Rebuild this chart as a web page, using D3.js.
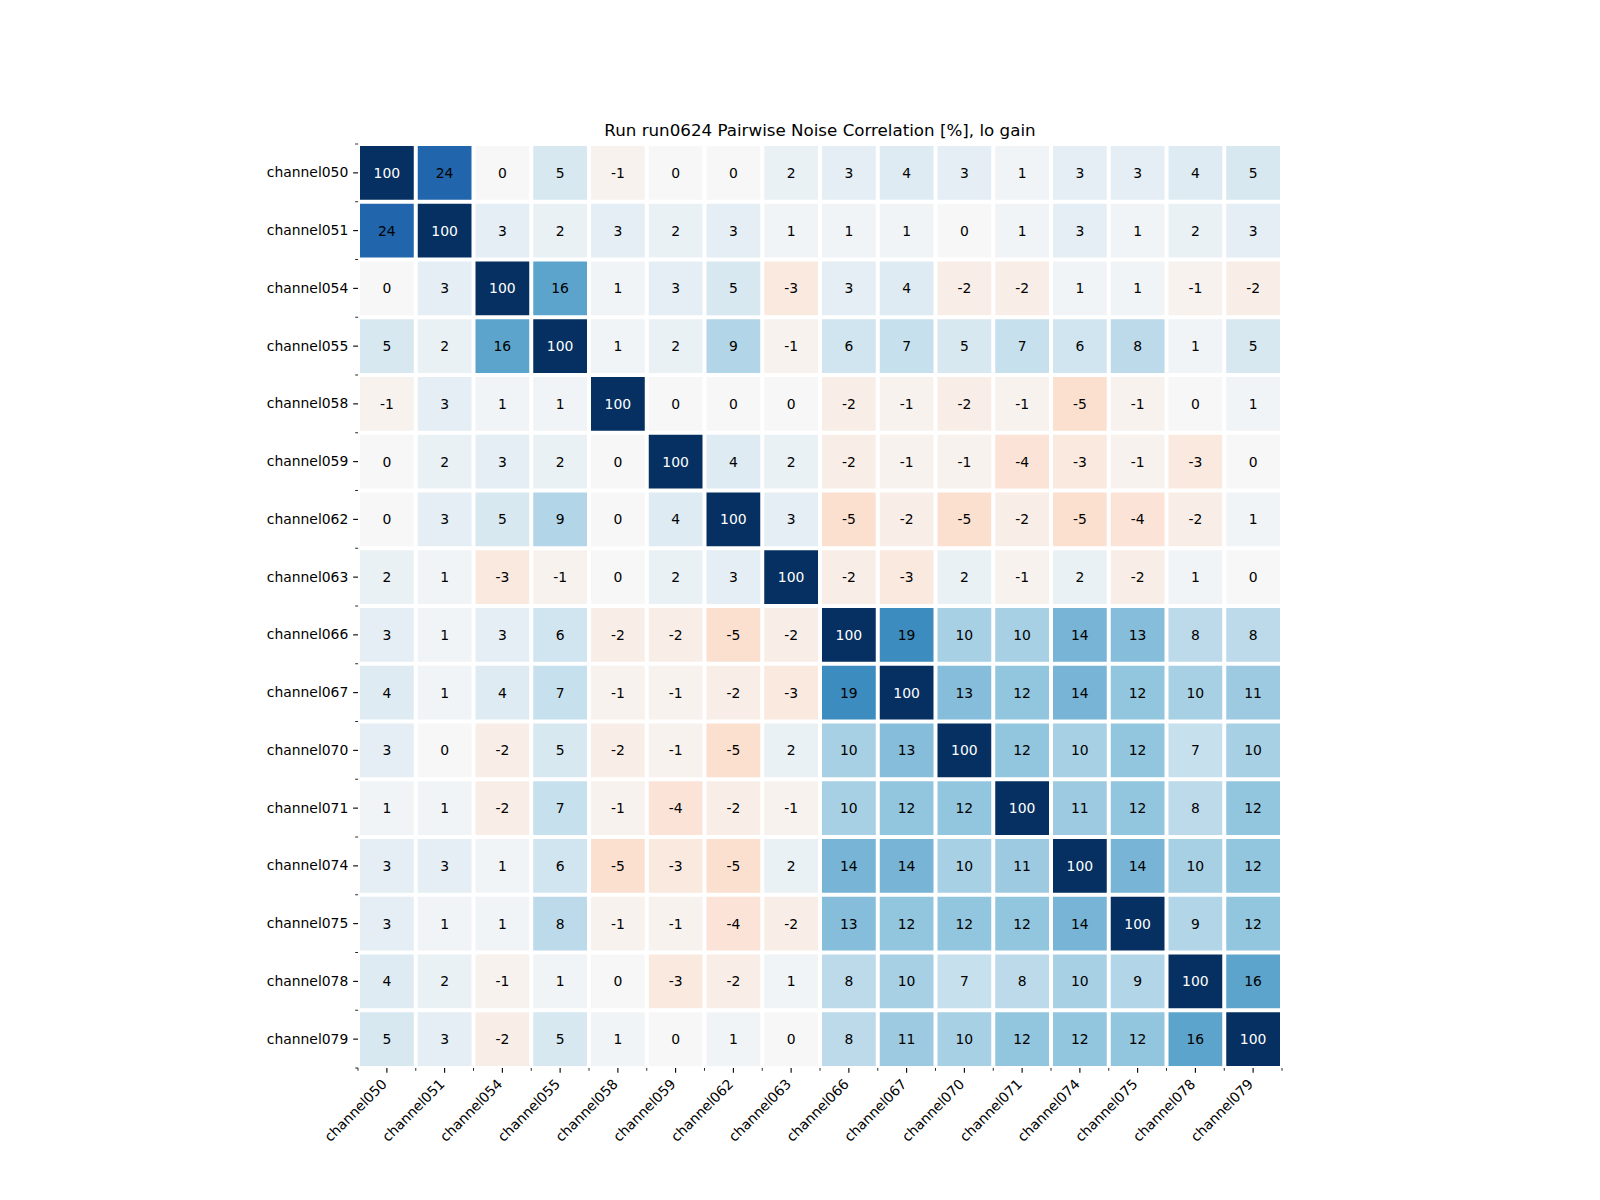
<html>
<head>
  <meta charset="utf-8">
  <style>
  body {
    margin: 0;
    background: #fff;
  }
  text {
    font-family: "DejaVu Sans", sans-serif;
  }
  </style>
</head>
<body>
  <div id="elm"></div>
  <script src="https://d3js.org/d3.v7.min.js"></script>
  <script>
  'use strict';

  var channels = ['channel050', 'channel051', 'channel054', 'channel055', 'channel058', 'channel059',
                  'channel062', 'channel063', 'channel066', 'channel067', 'channel070', 'channel071',
                  'channel074', 'channel075', 'channel078', 'channel079'];

  // correlation in percent, row by row (same order as channels)
  var corr = [
    [100, 24, 0, 5, -1, 0, 0, 2, 3, 4, 3, 1, 3, 3, 4, 5],
    [24, 100, 3, 2, 3, 2, 3, 1, 1, 1, 0, 1, 3, 1, 2, 3],
    [0, 3, 100, 16, 1, 3, 5, -3, 3, 4, -2, -2, 1, 1, -1, -2],
    [5, 2, 16, 100, 1, 2, 9, -1, 6, 7, 5, 7, 6, 8, 1, 5],
    [-1, 3, 1, 1, 100, 0, 0, 0, -2, -1, -2, -1, -5, -1, 0, 1],
    [0, 2, 3, 2, 0, 100, 4, 2, -2, -1, -1, -4, -3, -1, -3, 0],
    [0, 3, 5, 9, 0, 4, 100, 3, -5, -2, -5, -2, -5, -4, -2, 1],
    [2, 1, -3, -1, 0, 2, 3, 100, -2, -3, 2, -1, 2, -2, 1, 0],
    [3, 1, 3, 6, -2, -2, -5, -2, 100, 19, 10, 10, 14, 13, 8, 8],
    [4, 1, 4, 7, -1, -1, -2, -3, 19, 100, 13, 12, 14, 12, 10, 11],
    [3, 0, -2, 5, -2, -1, -5, 2, 10, 13, 100, 12, 10, 12, 7, 10],
    [1, 1, -2, 7, -1, -4, -2, -1, 10, 12, 12, 100, 11, 12, 8, 12],
    [3, 3, 1, 6, -5, -3, -5, 2, 14, 14, 10, 11, 100, 14, 10, 12],
    [3, 1, 1, 8, -1, -1, -4, -2, 13, 12, 12, 12, 14, 100, 9, 12],
    [4, 2, -1, 1, 0, -3, -2, 1, 8, 10, 7, 8, 10, 9, 100, 16],
    [5, 3, -2, 5, 1, 0, 1, 0, 8, 11, 10, 12, 12, 12, 16, 100]
  ];

  var rdbu = ['#67001f', '#b2182b', '#d6604d', '#f4a582', '#fddbc7', '#f7f7f7',
              '#d1e5f0', '#92c5de', '#4393c3', '#2166ac', '#053061'];

  var title = 'Run run0624 Pairwise Noise Correlation [%], lo gain';

  var width = 1600,
      height = 1200;

  var plotLeft = 358, plotTop = 144, size = 924;

  var svg = d3.select('#elm').append('svg')
    .attr('width', width).attr('height', height);

  var x = d3.scaleBand().domain(channels).range([plotLeft, plotLeft + size]);
  var y = d3.scaleBand().domain(channels).range([plotTop, plotTop + size]);

  var vmax = 30;
  var color = d3.scaleLinear()
    .domain(d3.range(rdbu.length).map(function(i) { return -vmax + 2 * vmax * i / (rdbu.length - 1); }))
    .range(rdbu)
    .clamp(true);

  var cells = [];
  corr.forEach(function(row, i) {
    row.forEach(function(v, j) {
      cells.push({ row: channels[i], col: channels[j], value: v });
    });
  });

  var gap = 2;
  var g = svg.append('g').attr('class', 'cells');

  g.selectAll('rect').data(cells).enter().append('rect')
    .attr('x', function(d) { return x(d.col) + gap; })
    .attr('y', function(d) { return y(d.row) + gap; })
    .attr('width', x.bandwidth() - 2 * gap)
    .attr('height', y.bandwidth() - 2 * gap)
    .attr('fill', function(d) { return color(d.value); });

  g.selectAll('text').data(cells).enter().append('text')
    .attr('x', function(d) { return x(d.col) + x.bandwidth() / 2; })
    .attr('y', function(d) { return y(d.row) + y.bandwidth() / 2; })
    .attr('dy', '0.36em')
    .attr('text-anchor', 'middle')
    .attr('font-size', '13.9px')
    .attr('fill', function(d) { return d.value >= 50 ? '#ffffff' : '#000000'; })
    .text(function(d) { return d.value; });

  // major ticks at cell centers, minor ticks at cell edges
  var edgesX = d3.range(channels.length + 1).map(function(i) { return plotLeft + i * x.step(); });
  var edgesY = d3.range(channels.length + 1).map(function(i) { return plotTop + i * y.step(); });

  var yAxis = d3.axisLeft(y).tickSize(4.86).tickPadding(4.86);
  var ga = svg.append('g').attr('transform', 'translate(' + plotLeft + ',0)').call(yAxis);
  ga.select('.domain').remove();
  ga.selectAll('line').attr('stroke', '#000').attr('stroke-width', 1.1);
  ga.selectAll('text').attr('font-size', '13.9px').attr('fill', '#000')
    .style('font-family', '"DejaVu Sans", sans-serif');

  var xAxis = d3.axisBottom(x).tickSize(4.86).tickFormat('');
  var gb = svg.append('g').attr('transform', 'translate(0,' + (plotTop + size) + ')').call(xAxis);
  gb.select('.domain').remove();
  gb.selectAll('line').attr('stroke', '#000').attr('stroke-width', 1.1);

  svg.append('g').selectAll('line').data(edgesY).enter().append('line')
    .attr('x1', plotLeft - 2.78).attr('x2', plotLeft)
    .attr('y1', function(d) { return d; }).attr('y2', function(d) { return d; })
    .attr('stroke', '#000').attr('stroke-width', 0.85);

  svg.append('g').selectAll('line').data(edgesX).enter().append('line')
    .attr('y1', plotTop + size).attr('y2', plotTop + size + 2.78)
    .attr('x1', function(d) { return d; }).attr('x2', function(d) { return d; })
    .attr('stroke', '#000').attr('stroke-width', 0.85);

  svg.append('g').selectAll('text').data(channels).enter().append('text')
    .attr('transform', function(d) {
      var cx = x(d) + x.bandwidth() / 2;
      return 'translate(' + (cx + 1) + ',' + (plotTop + size + 17) + ') rotate(-45)';
    })
    .attr('text-anchor', 'end')
    .attr('font-size', '13.9px')
    .attr('fill', '#000')
    .text(function(d) { return d; });

  svg.append('text')
    .attr('x', plotLeft + size / 2)
    .attr('y', plotTop - 8.3)
    .attr('text-anchor', 'middle')
    .attr('font-size', '16.7px')
    .attr('fill', '#000')
    .text(title);
  </script>
</body>
</html>
